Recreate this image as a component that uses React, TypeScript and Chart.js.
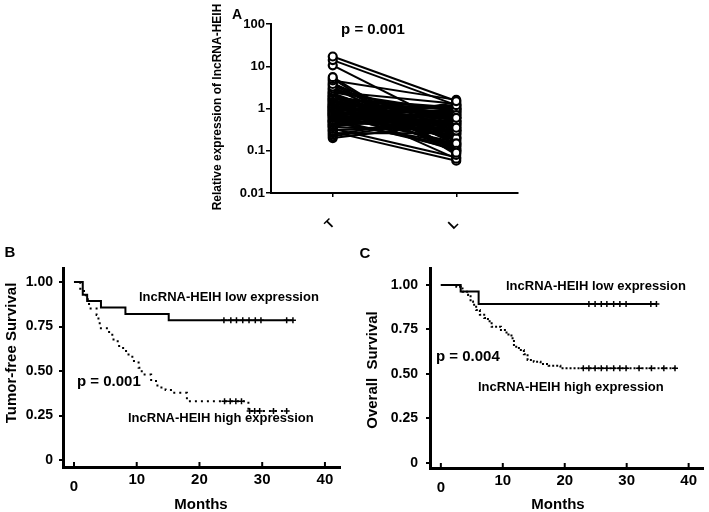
import React, { useEffect, useRef } from 'react';
import { Chart, registerables } from 'chart.js';

Chart.register(...registerables);

const FONT = '"Liberation Sans", Arial, Helvetica, sans-serif';

// ---------- Panel A data ----------
const pairLabels = ['T', 'L'];
const logTicks = [0.01, 0.1, 1, 10, 100];
const tumorExpr = [17, 14, 10.5, 5.5, 5.0, 4.6, 3.8, 3.3, 3.0, 2.7, 2.5, 2.3, 2.1, 2.0, 1.9, 1.8, 1.7, 1.6, 1.5, 1.4, 1.3, 1.25, 1.2, 1.15, 1.1, 1.05, 1.0, 0.95, 0.9, 0.88, 0.85, 0.8, 0.78, 0.75, 0.7, 0.68, 0.65, 0.62, 0.6, 0.55, 0.52, 0.5, 0.48, 0.45, 0.42, 0.4, 0.38, 0.36, 0.33, 0.3, 0.28, 0.26, 0.24, 0.22, 0.2,
  3.6, 2.9, 2.4, 1.95, 1.75, 1.55, 1.45, 1.35, 1.22, 1.12, 1.02, 0.98, 0.92, 0.87, 0.82, 0.77, 0.72, 0.66, 0.58, 0.53, 0.46, 0.41, 0.37, 0.31, 2.2, 1.65, 1.08, 0.72, 4.1, 0.5];
const adjacentExpr = [1.5, 1.2, 0.35, 0.09, 0.08, 1.6, 0.3, 0.1, 0.15, 0.6, 1.3, 0.2, 0.09, 0.5, 0.7, 0.25, 1.0, 0.4, 0.35, 0.18, 0.065, 0.8, 0.45, 0.12, 1.1, 0.28, 0.55, 0.14, 0.22, 0.9, 0.38, 0.1, 0.65, 0.2, 0.3, 1.2, 0.16, 0.75, 0.5, 0.11, 0.42, 0.85, 0.13, 1.4, 0.6, 0.95, 1.0, 0.32, 0.07, 0.48, 0.058, 0.26, 0.7, 0.58, 0.45,
  0.14, 0.5, 0.85, 0.3, 1.05, 0.17, 0.62, 0.95, 0.24, 0.4, 0.75, 0.13, 1.15, 0.33, 0.68, 0.21, 0.9, 0.44, 0.27, 1.25, 0.15, 0.52, 0.8, 0.36, 0.11, 1.0, 0.19, 0.6, 0.1, 0.3];

// ---------- Panels B / C shared ticks ----------
const monthTicks = [0, 10, 20, 30, 40];
const survivalTicks = [0, 0.25, 0.5, 0.75, 1];

// ---------- Panel B: tumor-free survival ----------
const tfsLowTimes = [0, 1.4, 2.1, 4.3, 8.2, 15.1, 34.9];
const tfsLowSurv = [1, 0.929, 0.893, 0.857, 0.821, 0.786, 0.786];
const tfsLowCensor = [23.9, 25.0, 25.9, 26.9, 27.9, 28.9, 29.8, 33.9, 34.9];
const tfsHighTimes = [0, 1.0, 1.6, 2.2, 2.4, 3.6, 3.9, 4.1, 5.6, 6.3, 7.2, 8.3, 9.3, 10.3, 10.8, 12.3, 13.3, 14.6, 15.8, 18.0, 27.8, 33.9];
const tfsHighSurv = [1, 0.963, 0.926, 0.889, 0.852, 0.815, 0.778, 0.741, 0.704, 0.667, 0.63, 0.593, 0.556, 0.519, 0.481, 0.444, 0.407, 0.393, 0.378, 0.331, 0.275, 0.275];
const tfsHighCensor = [24.0, 24.9, 25.8, 26.7, 28.0, 28.8, 29.6, 31.8, 33.9];

// ---------- Panel C: overall survival ----------
const osLowTimes = [0, 3.2, 6.1, 34.8];
const osLowSurv = [1, 0.964, 0.893, 0.893];
const osLowCensor = [23.9, 24.9, 25.9, 26.8, 27.9, 28.9, 29.9, 33.9, 34.8];
const osHighTimes = [0, 2.5, 3.2, 3.5, 4.4, 4.8, 5.2, 5.7, 6.3, 7.0, 7.6, 8.2, 9.7, 10.6, 11.4, 11.8, 12.6, 13.4, 14.0, 15.0, 16.1, 17.4, 19.3, 37.8];
const osHighSurv = [1, 0.99, 0.981, 0.962, 0.944, 0.907, 0.889, 0.859, 0.833, 0.815, 0.796, 0.765, 0.747, 0.722, 0.7, 0.653, 0.634, 0.611, 0.578, 0.568, 0.556, 0.546, 0.531, 0.531];
const osHighCensor = [23.0, 23.9, 24.9, 25.9, 26.8, 27.9, 28.9, 29.9, 32.0, 34.0, 36.0, 37.8];

type Txt = { text: string; x: number; y: number; size: number; rotate?: boolean; align?: CanvasTextAlign };

function textPlugin(id: string, offX: number, offY: number, items: Txt[]) {
  return {
    id,
    afterDraw(chart: any) {
      const ctx = chart.ctx as CanvasRenderingContext2D;
      items.forEach((it) => {
        ctx.save();
        ctx.font = `bold ${it.size}px ${FONT}`;
        ctx.fillStyle = '#000';
        ctx.textAlign = it.align || 'center';
        ctx.textBaseline = 'middle';
        ctx.translate(it.x - offX, it.y - offY);
        if (it.rotate) ctx.rotate(-Math.PI / 2);
        ctx.fillText(it.text, 0, 0);
        ctx.restore();
      });
    },
  };
}

function survAt(times: number[], surv: number[], t: number) {
  let s = surv[0];
  for (let i = 0; i < times.length; i++) if (times[i] <= t) s = surv[i];
  return s;
}

function PairedChart() {
  const ref = useRef<HTMLCanvasElement>(null);
  const L = 200, T = 0, W = 330, H = 250;
  useEffect(() => {
    const n = Math.min(tumorExpr.length, adjacentExpr.length);
    const datasets: any[] = [];
    for (let i = 0; i < n; i++) {
      datasets.push({
        data: [tumorExpr[i], adjacentExpr[i]],
        borderColor: '#000',
        borderWidth: 2,
        pointRadius: 4,
        pointBorderWidth: 2.2,
        pointBackgroundColor: '#fff',
        pointBorderColor: '#000',
        fill: false,
      });
    }
    const font = { family: FONT, size: 13, weight: 'bold' as const };
    const chart = new Chart(ref.current!, {
      type: 'line',
      data: { labels: pairLabels, datasets },
      options: {
        animation: false,
        responsive: false,
        layout: { padding: { top: 24, right: 12, left: 0, bottom: 0 } },
        plugins: { legend: { display: false }, tooltip: { enabled: false } },
        scales: {
          x: {
            type: 'category',
            offset: true,
            grid: { display: true, drawOnChartArea: false, drawTicks: true, tickLength: 4, color: '#000', lineWidth: 1.5, offset: false },
            border: { display: true, color: '#000', width: 2 },
            ticks: { font, color: '#000', minRotation: 45, maxRotation: 45, padding: 19 },
            afterFit: (s: any) => { s.height = 57; },
          },
          y: {
            type: 'logarithmic',
            min: 0.01,
            max: 100,
            afterBuildTicks: (s: any) => { s.ticks = logTicks.map((v) => ({ value: v })); },
            grid: { display: true, drawOnChartArea: false, drawTicks: true, tickLength: 5, color: '#000', lineWidth: 1.5 },
            border: { display: true, color: '#000', width: 2 },
            ticks: { font, color: '#000', padding: 1, callback: (v: any) => String(v) },
            afterFit: (s: any) => { s.width = 71; },
          },
        },
      } as any,
      plugins: [
        textPlugin('aText', L, T, [
          { text: 'A', x: 237, y: 15, size: 14 },
          { text: 'p = 0.001', x: 373, y: 30, size: 15 },
          { text: 'Relative expression of lncRNA-HEIH', x: 218, y: 107, size: 12, rotate: true },
        ]),
      ],
    });
    return () => chart.destroy();
  }, []);
  return <canvas ref={ref} width={W} height={H} style={{ position: 'absolute', left: L, top: T, width: W, height: H }} />;
}

type KMProps = {
  left: number; top: number; width: number; height: number;
  padTop: number; padRight: number; yWidth: number; xHeight: number;
  xMin: number; xMax: number; yMin: number; yMax: number;
  lowTimes: number[]; lowSurv: number[]; lowCensor: number[];
  highTimes: number[]; highSurv: number[]; highCensor: number[];
  dash: number[]; texts: Txt[]; yPad: number;
};

function KMChart(p: KMProps) {
  const ref = useRef<HTMLCanvasElement>(null);
  useEffect(() => {
    const line = (times: number[], surv: number[], dash: number[]) => ({
      data: times.map((t, i) => ({ x: t, y: surv[i] })),
      stepped: 'before',
      borderColor: '#000',
      borderWidth: 2,
      borderDash: dash,
      pointRadius: 0,
      fill: false,
    });
    const cens = (times: number[], surv: number[], c: number[]) => ({
      data: c.map((t) => ({ x: t, y: survAt(times, surv, t) })),
      showLine: false,
      pointStyle: 'cross',
      pointRadius: 3,
      pointBorderWidth: 1.5,
      pointBorderColor: '#000',
      borderColor: '#000',
    });
    const decor = {
      id: 'kmDecor',
      afterDraw(chart: any) {
        const ctx = chart.ctx as CanvasRenderingContext2D;
        const xs = chart.scales.x;
        const bottom = chart.chartArea.bottom;
        ctx.save();
        ctx.strokeStyle = '#000';
        ctx.lineWidth = 2;
        monthTicks.forEach((v) => {
          const px = xs.getPixelForValue(v);
          ctx.beginPath();
          ctx.moveTo(px, bottom);
          ctx.lineTo(px, bottom - 5);
          ctx.stroke();
        });
        ctx.font = `bold 15px ${FONT}`;
        ctx.fillStyle = '#000';
        ctx.textAlign = 'center';
        ctx.textBaseline = 'middle';
        monthTicks.forEach((v) => {
          const px = xs.getPixelForValue(v);
          ctx.fillText(String(v), px, bottom + 13 + (v === 0 ? 7 : 0));
        });
        ctx.restore();
      },
    };
    const chart = new Chart(ref.current!, {
      type: 'line',
      data: {
        datasets: [
          line(p.lowTimes, p.lowSurv, []),
          cens(p.lowTimes, p.lowSurv, p.lowCensor),
          cens(p.highTimes, p.highSurv, p.highCensor),
          line(p.highTimes, p.highSurv, p.dash),
        ],
      },
      options: {
        animation: false,
        responsive: false,
        layout: { padding: { top: p.padTop, right: p.padRight, left: 0, bottom: 0 } },
        plugins: { legend: { display: false }, tooltip: { enabled: false } },
        scales: {
          x: {
            type: 'linear',
            min: p.xMin,
            max: p.xMax,
            ticks: { display: false },
            grid: { display: false },
            border: { display: true, color: '#000', width: 3 },
            afterFit: (s: any) => { s.height = p.xHeight; },
          },
          y: {
            type: 'linear',
            min: p.yMin,
            max: p.yMax,
            afterBuildTicks: (s: any) => { s.ticks = survivalTicks.map((v) => ({ value: v })); },
            ticks: {
              font: { family: FONT, size: 14, weight: 'bold' },
              color: '#000',
              padding: p.yPad,
              callback: (v: any) => (Number(v) === 0 ? '0' : Number(v).toFixed(2)),
            },
            grid: { display: true, drawOnChartArea: false, drawTicks: true, tickLength: 4, color: '#000', lineWidth: 2 },
            border: { display: true, color: '#000', width: 3 },
            afterFit: (s: any) => { s.width = p.yWidth; },
          },
        },
      } as any,
      plugins: [decor, textPlugin('kmText', p.left, p.top, p.texts)],
    });
    return () => chart.destroy();
  }, []);
  return <canvas ref={ref} width={p.width} height={p.height} style={{ position: 'absolute', left: p.left, top: p.top, width: p.width, height: p.height }} />;
}

export default function App() {
  return (
    <div style={{ position: 'absolute', left: 0, top: 0, width: 709, height: 512, background: '#fff', overflow: 'hidden' }}>
      <PairedChart />
      <KMChart
        left={0} top={240} width={355} height={272}
        padTop={28} padRight={15} yWidth={63} xHeight={45}
        xMin={-1.75} xMax={42.4} yMin={-0.039} yMax={1.079}
        lowTimes={tfsLowTimes} lowSurv={tfsLowSurv} lowCensor={tfsLowCensor}
        highTimes={tfsHighTimes} highSurv={tfsHighSurv} highCensor={tfsHighCensor}
        dash={[2, 4]} yPad={6}
        texts={[
          { text: 'B', x: 10, y: 253, size: 15 },
          { text: 'Tumor-free Survival', x: 12, y: 353, size: 15, rotate: true },
          { text: 'Months', x: 201, y: 505, size: 15 },
          { text: 'lncRNA-HEIH low expression', x: 139, y: 297, size: 13, align: 'left' },
          { text: 'p = 0.001', x: 77, y: 382, size: 15, align: 'left' },
          { text: 'lncRNA-HEIH high expression', x: 128, y: 418, size: 13, align: 'left' },
        ]}
      />
      <KMChart
        left={355} top={240} width={354} height={272}
        padTop={28} padRight={2} yWidth={75} xHeight={44}
        xMin={-1.75} xMax={42.4} yMin={-0.03} yMax={1.096}
        lowTimes={osLowTimes} lowSurv={osLowSurv} lowCensor={osLowCensor}
        highTimes={osHighTimes} highSurv={osHighSurv} highCensor={osHighCensor}
        dash={[2, 2]} yPad={8}
        texts={[
          { text: 'C', x: 365, y: 254, size: 15 },
          { text: 'Overall  Survival', x: 373, y: 370, size: 15, rotate: true },
          { text: 'Months', x: 558, y: 505, size: 15 },
          { text: 'lncRNA-HEIH low expression', x: 506, y: 286, size: 13, align: 'left' },
          { text: 'p = 0.004', x: 436, y: 357, size: 15, align: 'left' },
          { text: 'lncRNA-HEIH high expression', x: 478, y: 387, size: 13, align: 'left' },
        ]}
      />
    </div>
  );
}
